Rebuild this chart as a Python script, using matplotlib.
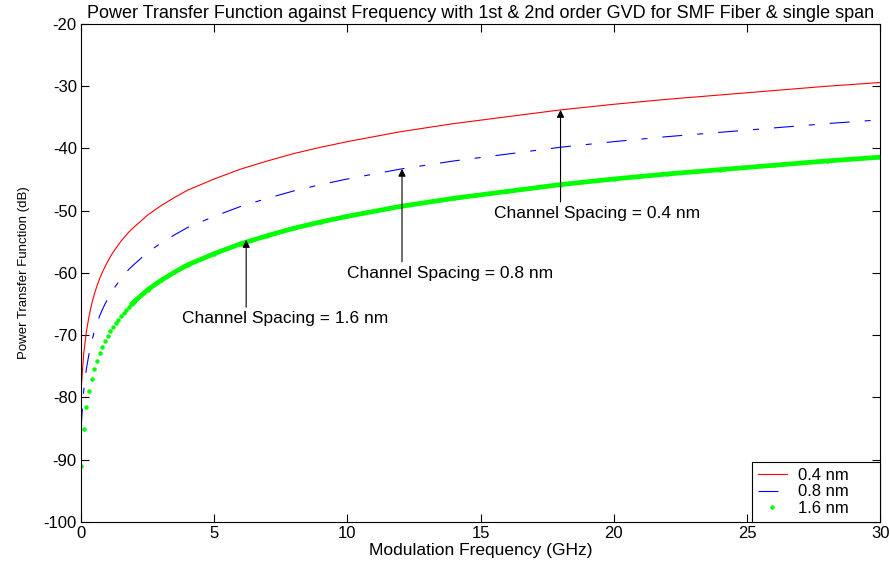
import matplotlib
matplotlib.use("Agg")
import matplotlib.pyplot as plt

plt.rcParams['font.family'] = ['Liberation Sans', 'DejaVu Sans']
plt.rcParams['lines.scale_dashes'] = False
plt.rcParams['axes.unicode_minus'] = False

# Modulation frequency (GHz) sample positions
freq = [0.0, 0.1, 0.2, 0.3, 0.4, 0.5, 0.6, 0.7, 0.8, 0.9, 1.0,
        1.1, 1.2, 1.3, 1.4, 1.5, 1.6, 1.7, 1.8, 1.9, 2.0,
        2.5, 3.0, 3.5, 4.0, 5.0, 6.0, 7.0, 8.0, 9.0, 10.0,
        12.0, 14.0, 16.0, 18.0, 20.0, 22.0, 24.0, 26.0, 28.0, 30.0]

# Power transfer function (dB), channel spacing 0.4 nm
ptf_04 = [-79.0, -73.0, -69.5, -67.0, -65.0, -63.4, -62.1, -60.9, -59.9, -59.0, -58.2,
          -57.4, -56.7, -56.1, -55.5, -54.9, -54.4, -53.9, -53.4, -53.0, -52.6,
          -50.7, -49.2, -47.9, -46.7, -44.9, -43.3, -42.0, -40.8, -39.8, -38.9,
          -37.3, -36.0, -34.9, -33.8, -32.9, -32.1, -31.4, -30.7, -30.0, -29.4]

# channel spacing 0.8 nm
ptf_08 = [-85.0, -79.0, -75.5, -73.0, -71.0, -69.4, -68.1, -66.9, -65.9, -65.0, -64.2,
          -63.4, -62.7, -62.1, -61.5, -60.9, -60.4, -59.9, -59.4, -59.0, -58.6,
          -56.7, -55.2, -53.9, -52.7, -50.9, -49.3, -48.0, -46.8, -45.8, -44.9,
          -43.3, -42.0, -40.9, -39.8, -38.9, -38.1, -37.4, -36.7, -36.0, -35.4]

# channel spacing 1.6 nm
ptf_16 = [-91.0, -85.0, -81.5, -79.0, -77.0, -75.4, -74.1, -72.9, -71.9, -71.0, -70.2,
          -69.4, -68.7, -68.1, -67.5, -66.9, -66.4, -65.9, -65.4, -65.0, -64.6,
          -62.7, -61.2, -59.9, -58.7, -56.9, -55.3, -54.0, -52.8, -51.8, -50.9,
          -49.3, -48.0, -46.9, -45.8, -44.9, -44.1, -43.4, -42.7, -42.0, -41.4]

series_labels = ['0.4 nm', '0.8 nm', '1.6 nm']
annot_text = ['Channel Spacing = 0.4 nm', 'Channel Spacing = 0.8 nm', 'Channel Spacing = 1.6 nm']
annot_x = [18.0, 12.05, 6.2]

fig = plt.figure(figsize=(8.9, 5.67), dpi=100)
ax = fig.add_axes([0.091, 0.0794, 0.898, 0.8783])

ax.plot(freq, ptf_04, color='#ff0000', lw=0.8, label=series_labels[0])
ax.plot(freq, ptf_08, color='#0000ff', lw=0.8, linestyle=(0, (14.4, 10.8, 4.3, 10.8)),
        label=series_labels[1])
# dense green markers merge into a band beyond ~2 GHz
idx = [i for i, f in enumerate(freq) if f >= 1.9]
ax.plot([freq[i] for i in idx], [ptf_16[i] for i in idx], color='#00ff00', lw=3.4,
        solid_capstyle='round')
ax.plot(freq, ptf_16, linestyle='none', marker='o', markersize=3.2,
        color='#00ff00', markeredgewidth=0, label=series_labels[2])

series = [ptf_04, ptf_08, ptf_16]
tail_y = [-48.6, -58.2, -65.5]
text_xy = [(19.36, -50.44), (13.86, -60.1), (7.68, -67.3)]
tip_off = [0.0, 0.0, 0.35]
for k in range(3):
    xs = freq; ys = series[k]; xa = annot_x[k]
    for j in range(len(xs) - 1):
        if xs[j] <= xa <= xs[j + 1]:
            t = (xa - xs[j]) / (xs[j + 1] - xs[j])
            ya = ys[j] + t * (ys[j + 1] - ys[j])
            break
    ax.annotate('', xy=(xa, ya + tip_off[k]), xytext=(xa, tail_y[k]),
                arrowprops=dict(arrowstyle='-|>', color='black', lw=0.8,
                                mutation_scale=11, shrinkA=0, shrinkB=0))
    ax.text(text_xy[k][0], text_xy[k][1], annot_text[k], ha='center', va='center',
            fontsize=12.5)

ax.set_xlim(0, 30)
ax.set_ylim(-100, -20)
ax.set_xticks([0, 5, 10, 15, 20, 25, 30])
ax.set_yticks([-100, -90, -80, -70, -60, -50, -40, -30, -20])
ax.tick_params(direction='in', top=True, right=True, length=5.5, width=0.8,
               labelsize=12, pad=3)
for s in ax.spines.values():
    s.set_linewidth(0.8)

ax.set_xlabel('Modulation Frequency (GHz)', fontsize=12.5, labelpad=1)
ax.set_ylabel('Power Transfer Function (dB)', fontsize=9.5, labelpad=10)
ax.set_title('Power Transfer Function against Frequency with 1st & 2nd order GVD for SMF Fiber & single span',
             fontsize=13, pad=4)

leg = ax.legend(loc='lower left', bbox_to_anchor=(0.84, 0.0, 0.16, 0.12), mode='expand',
                fontsize=12, numpoints=1, handlelength=1.7,
                borderaxespad=0.0, fancybox=False, framealpha=1,
                edgecolor='black', borderpad=0.35, labelspacing=0.1, handletextpad=0.7)
leg.get_frame().set_linewidth(0.8)

fig.savefig('out.png', dpi=100)
